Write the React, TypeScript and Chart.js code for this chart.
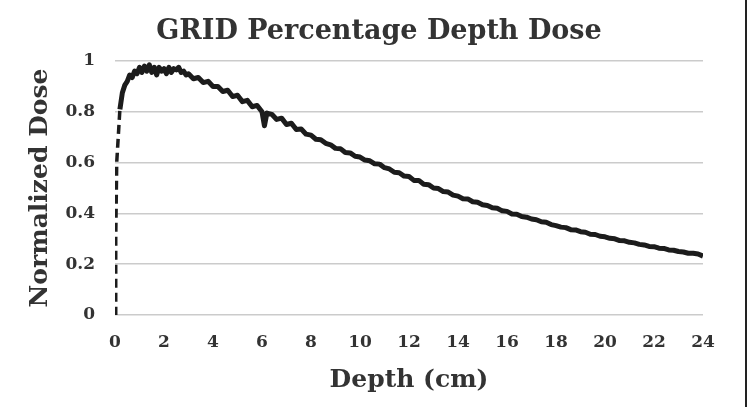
import { useEffect, useRef } from "react";
import { Chart, registerables } from "chart.js";

Chart.register(...registerables);

const TITLE = "GRID Percentage Depth Dose";
const X_TITLE = "Depth (cm)";
const Y_TITLE = "Normalized Dose";
const X_TICKS = [0, 2, 4, 6, 8, 10, 12, 14, 16, 18, 20, 22, 24];
const Y_TICKS = [0, 0.2, 0.4, 0.6, 0.8, 1];
const Y_TICK_LABELS = ["0", "0.2", "0.4", "0.6", "0.8", "1"];

// depth (cm)
const depth = [
  0, 0.03, 0.07, 0.2, 0.3, 0.4, 0.5, 0.6, 0.7, 0.8,
  0.9, 1.0, 1.1, 1.2, 1.3, 1.4, 1.5, 1.6, 1.7, 1.8,
  1.9, 2.0, 2.1, 2.2, 2.3, 2.4, 2.5, 2.6, 2.7, 2.8,
  2.9, 3.0, 3.2, 3.4, 3.6, 3.8, 4.0, 4.2, 4.4, 4.6,
  4.8, 5.0, 5.2, 5.4, 5.6, 5.8, 6.0, 6.1, 6.2, 6.4,
  6.6, 6.8, 7.0, 7.2, 7.4, 7.6, 7.8, 8.0, 8.2, 8.4,
  8.6, 8.8, 9.0, 9.2, 9.4, 9.6, 9.8, 10.0, 10.2, 10.4,
  10.6, 10.8, 11.0, 11.2, 11.4, 11.6, 11.8, 12.0, 12.2, 12.4,
  12.6, 12.8, 13.0, 13.2, 13.4, 13.6, 13.8, 14.0, 14.2, 14.4,
  14.6, 14.8, 15.0, 15.2, 15.4, 15.6, 15.8, 16.0, 16.2, 16.4,
  16.6, 16.8, 17.0, 17.2, 17.4, 17.6, 17.8, 18.0, 18.2, 18.4,
  18.6, 18.8, 19.0, 19.2, 19.4, 19.6, 19.8, 20.0, 20.2, 20.4,
  20.6, 20.8, 21.0, 21.2, 21.4, 21.6, 21.8, 22.0, 22.2, 22.4,
  22.6, 22.8, 23.0, 23.2, 23.4, 23.6, 23.8, 24.0,
];

// normalized dose
const dose = [
  0, 0.3, 0.6, 0.81, 0.875, 0.905, 0.92, 0.945, 0.935, 0.96,
  0.95, 0.975, 0.955, 0.98, 0.96, 0.985, 0.955, 0.975, 0.945, 0.975,
  0.96, 0.97, 0.95, 0.975, 0.955, 0.97, 0.965, 0.975, 0.955, 0.96,
  0.945, 0.95, 0.93, 0.935, 0.915, 0.92, 0.9, 0.9, 0.88, 0.885,
  0.86, 0.865, 0.84, 0.845, 0.82, 0.825, 0.8, 0.745, 0.795, 0.79,
  0.77, 0.775, 0.75, 0.755, 0.73, 0.732, 0.712, 0.708, 0.692, 0.69,
  0.676, 0.67, 0.656, 0.655, 0.64, 0.638, 0.625, 0.622, 0.61, 0.607,
  0.595, 0.594, 0.58, 0.575, 0.562, 0.56, 0.547, 0.545, 0.53, 0.53,
  0.515, 0.513, 0.5, 0.498, 0.486, 0.484, 0.472, 0.468, 0.458, 0.457,
  0.446, 0.444, 0.434, 0.431, 0.422, 0.42, 0.41, 0.408, 0.398, 0.397,
  0.388, 0.385, 0.378, 0.375, 0.367, 0.365, 0.356, 0.352, 0.346, 0.344,
  0.336, 0.335, 0.328, 0.326, 0.318, 0.317, 0.31, 0.308, 0.302, 0.3,
  0.293, 0.292, 0.286, 0.284, 0.278, 0.276, 0.27, 0.269, 0.263, 0.262,
  0.256, 0.255, 0.25, 0.248, 0.243, 0.243, 0.24, 0.232,
];

const DASHED_UNTIL = 0.2;
const FONT = "'DejaVu Serif', serif";
const TEXT = "#333333";

const titlePlugin = {
  id: "pageTitle",
  afterDraw(chart: any) {
    const ctx = chart.ctx;
    ctx.save();
    ctx.font = `bold 27px ${FONT}`;
    ctx.fillStyle = TEXT;
    ctx.textAlign = "center";
    ctx.textBaseline = "middle";
    ctx.fillText(TITLE, 379, 32);
    ctx.restore();
  },
};

export default function App() {
  const ref = useRef<HTMLCanvasElement | null>(null);

  useEffect(() => {
    if (!ref.current) return;
    const chart = new Chart(ref.current, {
      type: "line",
      data: {
        datasets: [
          {
            data: depth.map((x, i) => ({ x, y: dose[i] })),
            borderColor: "#1c1c1c",
            borderWidth: 5,
            pointRadius: 0,
            tension: 0,
            borderJoinStyle: "round",
            segment: {
              borderDash: (ctx: any) =>
                ctx.p1.parsed.x <= DASHED_UNTIL ? [9, 5] : undefined,
              borderWidth: (ctx: any) =>
                ctx.p1.parsed.x <= DASHED_UNTIL ? 3.5 : undefined,
            },
          },
        ],
      },
      plugins: [titlePlugin],
      options: {
        animation: false,
        responsive: false,
        maintainAspectRatio: false,
        layout: { padding: { top: 61, left: 0, right: 48, bottom: 0 } },
        plugins: {
          legend: { display: false },
          tooltip: { enabled: false },
          title: { display: false },
        },
        scales: {
          x: {
            type: "linear",
            min: 0,
            max: 24,
            afterBuildTicks: (s: any) => {
              s.ticks = X_TICKS.map((v) => ({ value: v }));
            },
            afterFit: (s: any) => {
              s.height = 92;
            },
            ticks: {
              color: TEXT,
              font: { family: FONT, size: 17, weight: "bold" },
              padding: 17.8,
              maxRotation: 0,
              autoSkip: false,
            },
            grid: { display: false, drawTicks: false },
            border: { display: false },
            title: {
              display: true,
              text: X_TITLE,
              color: TEXT,
              font: { family: FONT, size: 25, weight: "bold" },
              padding: { top: 0, bottom: 12 },
            },
          },
          y: {
            type: "linear",
            min: 0,
            max: 1,
            afterBuildTicks: (s: any) => {
              s.ticks = Y_TICKS.map((v) => ({ value: v }));
            },
            afterFit: (s: any) => {
              s.width = 115;
            },
            ticks: {
              color: TEXT,
              font: { family: FONT, size: 17, weight: "bold" },
              padding: 20,
              callback: (_v: any, i: number) => Y_TICK_LABELS[i],
            },
            grid: { color: "#cbcbcb", lineWidth: 1.6, drawTicks: false },
            border: { display: false },
            title: {
              display: true,
              text: Y_TITLE,
              color: TEXT,
              font: { family: FONT, size: 25, weight: "bold" },
              padding: { top: 25, bottom: 0 },
            },
          },
        },
      },
    });
    return () => chart.destroy();
  }, []);

  return (
    <div
      style={{
        position: "fixed",
        left: 0,
        top: 0,
        width: 751,
        height: 407,
        background: "#ffffff",
      }}
    >
      <canvas
        ref={ref}
        width={751}
        height={407}
        style={{ position: "absolute", left: 0, top: 0, width: 751, height: 407 }}
      />
      <div
        style={{
          position: "absolute",
          left: 745,
          top: 0,
          width: 2,
          height: 407,
          background: "#222222",
        }}
      />
    </div>
  );
}
